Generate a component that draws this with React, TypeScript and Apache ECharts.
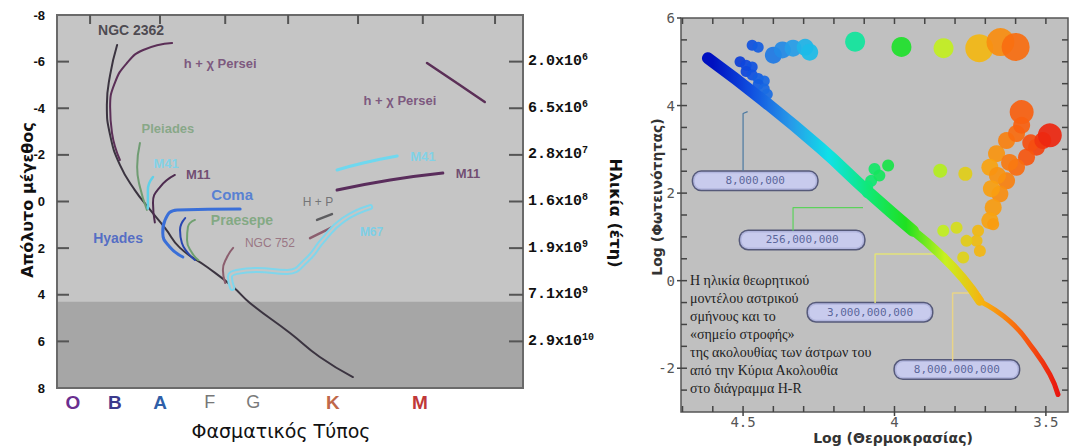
import React, { useEffect, useRef } from "react";
import * as echarts from "echarts";

// ---------------- LEFT PANEL (x: spectral position 0–100, y: absolute magnitude) ----------------
const xMinL = 0;
const xMaxL = 100;
const magMin = -8;
const magMax = 8;
const spectralClasses = ["O", "B", "A", "F", "G", "K", "M"];
const spectralPos = [3.4, 12.4, 22.1, 32.8, 42.1, 59.2, 77.9];
const topTickPos = [7.1, 22.1, 36.1, 49.6, 64.6, 78.5, 94.0];
const magTickPos = [-6, -4, -2, 0, 2, 4, 6];
const ageMags = [-6, -4, -2, 0, 2, 4, 6];
const ageMantissa = ["2.0", "6.5", "2.8", "1.6", "1.9", "7.1", "2.9"];
const ageExponent = ["6", "6", "7", "8", "9", "9", "10"];
const darkRegionStart = 4.3;

const mainSequence = [[12.9, -6.71], [11.4, -5.43], [10.7, -4.14], [11.4, -2.85], [13.5, -1.57], [16.7, -0.49], [20.0, 0.36], [23.2, 1.14], [26.4, 1.99], [32.2, 2.81], [37.8, 3.67], [41.4, 4.35], [50.0, 5.64], [56.4, 6.67], [63.5, 7.53]];
const persei = [[24.7, -6.8], [18.5, -6.5], [15.0, -5.94], [12.4, -5.08], [11.4, -4.05], [11.8, -2.94], [13.5, -1.78]];
const perseiGiants = [[79.4, -5.94], [85.8, -5.08], [91.8, -4.27]];
const pleiades = [[17.8, -2.51], [17.2, -1.48], [17.8, -0.62], [19.3, 0.36]];
const m41 = [[20.6, -1.05], [19.5, -0.49], [19.5, 0.3]];
const m41Giants = [[60.1, -1.35], [65.7, -1.65], [73.0, -1.95]];
const m11 = [[25.3, -1.14], [22.1, -0.62], [20.6, 0.06], [21.0, 0.9]];
const m11Giants = [[60.1, -0.49], [71.5, -0.92], [82.8, -1.22]];
const coma = [[39.3, 0.32], [25.8, 0.36], [23.2, 0.79], [22.7, 1.35], [24.2, 1.95], [27.0, 2.38]];
const hyades = [[27.5, 0.71], [26.4, 1.22], [26.8, 1.78], [28.1, 2.21], [29.6, 2.51]];
const praesepe = [[29.6, 0.79], [28.1, 1.09], [27.9, 1.65], [29.0, 2.21], [30.3, 2.51]];
const ngc752 = [[37.8, 1.99], [36.5, 2.38], [35.6, 2.94], [36.1, 3.5]];
const ngc752Giants = [[54.3, 1.57], [59.2, 1.09]];
const hpGiants = [[55.8, 0.79], [59.0, 0.54]];
const m67 = [[37.6, 3.71], [37.1, 3.24], [38.6, 3.02], [42.9, 2.94], [49.4, 3.02], [53.6, 2.51], [57.1, 1.65], [61.4, 0.79], [67.2, 0.24]];

const clusterLabels = ["NGC 2362", "h + χ Persei", "h + χ Persei", "Pleiades", "M41", "M11", "Coma", "Praesepe", "Hyades", "NGC 752", "H + P", "M67", "M41", "M11"];
const clusterLabelPos = [[15.9, -7.36], [35.0, -5.94], [73.6, -4.35], [23.8, -3.15], [23.4, -1.65], [30.3, -1.14], [37.6, -0.28], [39.7, 0.79], [13.1, 1.57], [45.7, 1.78], [56.0, 0.02], [67.5, 1.31], [78.5, -1.91], [88.2, -1.22]];

// ---------------- RIGHT PANEL (x: log T, y: log L) ----------------
const tempMin = 3.427;
const tempMax = 4.705;
const lumMin = -3;
const lumMax = 6;
const tempLabels = [3.5, 4, 4.5];
const tempTicks = [3.5, 3.6, 3.7, 3.8, 3.9, 4.0, 4.1, 4.2, 4.3, 4.4, 4.5, 4.6, 4.7];
const lumLabels = [-2, 0, 2, 4, 6];
const lumTicks = [-2.5, -2, -1.5, -1, -0.5, 0, 0.5, 1, 1.5, 2, 2.5, 3, 3.5, 4, 4.5, 5, 5.5];

const msUpper = [[4.616, 5.08], [4.434, 4.12], [4.246, 3.04], [4.081, 1.99], [3.939, 1.14]];
const msMiddle = [[3.939, 1.14], [3.85, 0.61], [3.774, 0.06], [3.718, -0.47]];
const msLower = [[3.718, -0.47], [3.619, -0.93], [3.543, -1.55], [3.487, -2.14], [3.46, -2.6]];
const turnoffBlue = [[4.47, 5.38], [4.45, 5.33], [4.51, 5.0], [4.49, 4.92], [4.47, 4.88], [4.49, 4.78], [4.47, 4.7], [4.45, 4.62], [4.43, 4.56], [4.45, 4.48], [4.43, 4.38], [4.42, 4.26]];
const topRowSmall = [[4.40, 5.15], [4.37, 5.27], [4.335, 5.31], [4.295, 5.33], [4.28, 5.22]];
const topRowMid = [[4.13, 5.46], [3.977, 5.34], [3.838, 5.31]];
const topRowLarge = [[3.72, 5.31], [3.65, 5.45], [3.60, 5.34]];
const greenBranch = [[4.066, 2.55], [4.021, 2.63], [4.077, 2.28], [4.088, 2.02], [4.05, 2.4], [4.09, 2.15]];
const yellowPair = [[3.849, 2.51], [3.766, 2.44]];
const redBranch = [[3.531, 3.05], [3.564, 2.82], [3.597, 2.59], [3.63, 2.28], [3.652, 1.98], [3.674, 1.67], [3.685, 1.37], [3.663, 2.9], [3.63, 3.2], [3.597, 3.36], [3.685, 2.59], [3.58, 3.55], [3.66, 2.4], [3.68, 2.1], [3.62, 2.7], [3.55, 3.15], [3.51, 3.2]];
const redTop = [[3.58, 3.85], [3.487, 3.32]];
const subgiants = [[3.674, 1.29], [3.724, 1.14], [3.729, 0.91], [3.762, 0.91], [3.718, 0.68], [3.795, 1.21], [3.839, 1.14], [3.773, 0.53]];

const boxLabels = ["8,000,000", "256,000,000", "3,000,000,000", "8,000,000,000"];
const boxPos = [[4.46, 2.28], [4.305, 0.93], [4.081, -0.72], [3.794, -2.03]];
const lead8M = [[4.5, 2.51], [4.5, 3.82], [4.485, 3.86]];
const lead256M = [[4.335, 1.14], [4.335, 1.67], [4.104, 1.67]];
const lead3G = [[4.064, -0.51], [4.064, 0.61], [3.843, 0.61]];
const lead8G = [[3.808, -1.84], [3.808, -0.28], [3.716, -0.28]];

const noteText = "Η ηλικία θεωρητικού\nμοντέλου αστρικού\nσμήνους και το\n«σημείο στροφής»\nτης ακολουθίας των άστρων του\nαπό την Κύρια Ακολουθία\nστο διάγραμμα H-R";

const labelColors: Record<string, string> = {
  "NGC 2362": "#2e2a33",
  "h + χ Persei": "#6a3b6c",
  Pleiades: "#78a078",
  M41: "#6fd6f0",
  M11: "#5a2d5c",
  Coma: "#3b6fd6",
  Praesepe: "#72a272",
  Hyades: "#3656c4",
  "NGC 752": "#8e6272",
  "H + P": "#5e5e62",
  M67: "#6ad2f0",
};

const LX = 0;
const LY = 0;
const RX = 1;
const RY = 2;

export default function App() {
  const ref = useRef<HTMLDivElement>(null);
  useEffect(() => {
    if (!ref.current) return;
    const chart = echarts.init(ref.current, undefined, { renderer: "svg" });

    const curve = (data: number[][], color: string, width: number, extra: any = {}) => ({
      type: "line",
      xAxisIndex: LX,
      yAxisIndex: LY,
      data,
      smooth: true,
      showSymbol: false,
      silent: true,
      lineStyle: { color, width, cap: "round" },
      ...extra,
    });

    const rLine = (data: number[][], color: string, width: number) => ({
      type: "line",
      xAxisIndex: RX,
      yAxisIndex: RY,
      data,
      showSymbol: false,
      silent: true,
      lineStyle: { color, width },
    });

    const msLine = (data: number[][], width: number) => ({
      type: "line",
      xAxisIndex: RX,
      yAxisIndex: RY,
      data,
      smooth: true,
      showSymbol: false,
      silent: true,
      lineStyle: { width, cap: "round" },
    });

    const dots = (data: number[][], size: number) => ({
      type: "scatter",
      xAxisIndex: RX,
      yAxisIndex: RY,
      data,
      symbolSize: size,
      silent: true,
      itemStyle: { opacity: 0.92 },
    });

    const labelSize = (n: string) =>
      n === "Coma" ? 15 : n === "H + P" || n === "M67" || n === "NGC 752" ? 12 : n === "NGC 2362" || n === "Hyades" || n === "Praesepe" ? 14 : 13;

    const series: any[] = [
      curve(mainSequence, "#3b3440", 2, {
        markArea: {
          silent: true,
          itemStyle: { color: "#a6a6a6" },
          data: [[{ yAxis: darkRegionStart }, { yAxis: magMax }]],
        },
        z: 3,
      }),
      curve(persei, "#5b2f57", 2),
      curve(perseiGiants, "#5b2f57", 2.5),
      curve(pleiades, "#6f9c72", 2),
      curve(m41, "#5fd0e8", 2.5),
      curve(m41Giants, "#6fd8ef", 3),
      curve(m11, "#4d2b4f", 2),
      curve(m11Giants, "#5a2d5c", 3),
      curve(coma, "#3a6fd8", 3),
      curve(hyades, "#2846b0", 2),
      curve(praesepe, "#70a070", 2),
      curve(ngc752, "#8b5e6e", 2),
      curve(ngc752Giants, "#8b5e6e", 2.5),
      curve(hpGiants, "#5d5d60", 2.5),
      curve(m67, "#7fd6ec", 6),
      curve(m67, "#c5c5c5", 2),
      {
        type: "scatter",
        xAxisIndex: LX,
        yAxisIndex: LY,
        silent: true,
        symbolSize: 0.1,
        itemStyle: { color: "transparent" },
        data: clusterLabels.map((n, i) => ({
          name: n,
          value: clusterLabelPos[i],
          label: {
            color: labelColors[n],
            fontSize: labelSize(n),
            fontWeight: n === "NGC 752" || n === "H + P" ? "normal" : "bold",
          },
        })),
        label: {
          show: true,
          position: "inside",
          formatter: "{b}",
          fontFamily: "Liberation Sans",
          fontWeight: "bold",
          fontSize: 13,
        },
        labelLayout: { hideOverlap: false },
      },
      rLine(lead8M, "#4a78a0", 1.2),
      rLine(lead256M, "#5cd25c", 1.2),
      rLine(lead3G, "#e2e27a", 1.5),
      rLine(lead8G, "#e8d488", 1.5),
    ];

    const vmStart = series.length;
    series.push(
      msLine(msUpper, 12),
      msLine(msMiddle, 9),
      msLine(msLower, 5),
      dots(turnoffBlue, 11),
      dots(topRowSmall, 17),
      dots(topRowMid, 20),
      dots(topRowLarge, 28),
      dots(greenBranch, 12),
      dots(yellowPair, 14),
      dots(redBranch, 17),
      dots(redTop, 24),
      dots(subgiants, 12)
    );
    const vmEnd = series.length;
    series.push({
      type: "scatter",
      xAxisIndex: RX,
      yAxisIndex: RY,
      silent: true,
      symbolSize: 0.1,
      itemStyle: { color: "transparent" },
      data: boxLabels.map((n, i) => ({ name: n, value: boxPos[i] })),
      label: {
        show: true,
        position: "inside",
        formatter: "{b}",
        fontFamily: "DejaVu Sans Mono",
        fontSize: 11,
        color: "#3c4a84",
        backgroundColor: "#c9cdf8",
        borderColor: "#3a3f66",
        borderWidth: 1.5,
        borderRadius: 8,
        width: 116,
        height: 14,
        align: "center",
        verticalAlign: "middle",
        padding: [2, 4],
      },
      labelLayout: { hideOverlap: false },
    });

    const vmIdx: number[] = [];
    for (let i = vmStart; i < vmEnd; i++) vmIdx.push(i);

    const noLine = { show: false, onZero: false };
    const option: any = {
      animation: false,
      backgroundColor: "#ffffff",
      grid: [
        { left: 57, top: 15, width: 466, height: 373, show: true, backgroundColor: "#c5c5c5", borderWidth: 0 },
        { left: 681, top: 18, width: 387, height: 394, show: true, backgroundColor: "#c0c0c0", borderWidth: 0 },
      ],
      xAxis: [
        {
          gridIndex: 0, type: "value", position: "bottom", min: xMinL, max: xMaxL,
          axisLine: noLine, axisTick: { show: false }, splitLine: { show: false },
          axisLabel: {
            customValues: spectralPos,
            margin: 5,
            formatter: (v: number) => {
              const i = spectralPos.indexOf(v);
              return i < 0 ? "" : `{${spectralClasses[i]}|${spectralClasses[i]}}`;
            },
            rich: {
              O: { color: "#6a2f8f", fontSize: 19, fontWeight: "bold", fontFamily: "Liberation Sans" },
              B: { color: "#3b3a8c", fontSize: 19, fontWeight: "bold", fontFamily: "Liberation Sans" },
              A: { color: "#2f5fa8", fontSize: 19, fontWeight: "bold", fontFamily: "Liberation Sans" },
              F: { color: "#777777", fontSize: 18, fontFamily: "Liberation Sans" },
              G: { color: "#7a7a7a", fontSize: 18, fontFamily: "Liberation Sans" },
              K: { color: "#c0684a", fontSize: 19, fontWeight: "bold", fontFamily: "Liberation Sans" },
              M: { color: "#c03838", fontSize: 19, fontWeight: "bold", fontFamily: "Liberation Sans" },
            },
          },
        },
        {
          gridIndex: 1, type: "value", position: "bottom", min: tempMin, max: tempMax, inverse: true,
          axisLine: noLine, splitLine: { show: false }, axisTick: { show: false },
          axisLabel: { customValues: tempLabels, margin: 3, formatter: (v: number) => String(v), fontFamily: "DejaVu Sans Mono", fontSize: 14, color: "#555" },
        },
      ],
      yAxis: [
        {
          gridIndex: 0, type: "value", position: "left", min: magMin, max: magMax, interval: 2, inverse: true,
          axisLine: noLine, splitLine: { show: false }, axisTick: { show: false },
          axisLabel: { margin: 12, fontFamily: "Liberation Sans", fontWeight: "bold", fontSize: 13, color: "#111" },
        },
        {
          gridIndex: 0, type: "value", position: "right", min: magMin, max: magMax, inverse: true,
          axisLine: noLine, splitLine: { show: false }, axisTick: { show: false },
          axisLabel: {
            customValues: ageMags,
            margin: 5,
            formatter: (v: number) => {
              const i = ageMags.indexOf(v);
              return i < 0 ? "" : `{m|${ageMantissa[i]}x10}{e|${ageExponent[i]}}`;
            },
            rich: {
              m: { fontFamily: "Liberation Mono", fontWeight: "bold", fontSize: 15, color: "#111", lineHeight: 18 },
              e: { fontFamily: "Liberation Mono", fontWeight: "bold", fontSize: 10, color: "#111", lineHeight: 10, verticalAlign: "top" },
            },
          },
        },
        {
          gridIndex: 1, type: "value", position: "left", min: lumMin, max: lumMax,
          axisLine: noLine, splitLine: { show: false }, axisTick: { show: false },
          axisLabel: { customValues: lumLabels, margin: 6, fontFamily: "DejaVu Sans Mono", fontSize: 14, color: "#555" },
        },
      ],
      visualMap: [
        {
          type: "continuous",
          show: false,
          dimension: 0,
          min: 3.45,
          max: 4.6,
          seriesIndex: vmIdx,
          inRange: {
            color: ["#e81010", "#f86010", "#f8b010", "#c8f020", "#20e020", "#10e878", "#10e0e8", "#2898e8", "#1050e0", "#0010c0"],
          },
        },
      ],
      series,
    };
    chart.setOption(option);

    // frames and tick marks, positioned through the axes' own scales
    const toPx = (gi: number, pt: number[]) => chart.convertToPixel({ gridIndex: gi } as any, pt) as number[];
    const els: any[] = [];
    const seg = (p: number[], dx: number, dy: number, color: string, w: number) =>
      els.push({ type: "line", z: 100, silent: true, shape: { x1: p[0], y1: p[1], x2: p[0] + dx, y2: p[1] + dy }, style: { stroke: color, lineWidth: w } });
    const frame = (gi: number, a: number[], b: number[], color: string, w: number) => {
      const p = toPx(gi, a);
      const q = toPx(gi, b);
      els.push({
        type: "rect", z: 100, silent: true,
        shape: { x: Math.min(p[0], q[0]), y: Math.min(p[1], q[1]), width: Math.abs(q[0] - p[0]), height: Math.abs(q[1] - p[1]) },
        style: { fill: "none", stroke: color, lineWidth: w },
      });
    };
    frame(0, [xMinL, magMin], [xMaxL, magMax], "#6a6a6a", 2);
    topTickPos.forEach((v) => seg(toPx(0, [v, magMin]), 0, 9, "#555", 2));
    magTickPos.forEach((v) => seg(toPx(0, [xMinL, v]), 12, 0, "#555", 2));
    magTickPos.forEach((v) => seg(toPx(0, [xMaxL, v]), -14, 0, "#555", 2));
    frame(1, [tempMin, lumMin], [tempMax, lumMax], "#555", 1.5);
    tempTicks.forEach((v) => seg(toPx(1, [v, lumMin]), 0, -6, "#444", 1.5));
    tempLabels.forEach((v) => seg(toPx(1, [v, lumMin]), 0, 4, "#444", 1.5));
    tempTicks.forEach((v) => seg(toPx(1, [v, lumMax]), 0, 6, "#444", 1.5));
    lumTicks.forEach((v) => seg(toPx(1, [tempMax, v]), 6, 0, "#444", 1.5));
    lumLabels.forEach((v) => seg(toPx(1, [tempMax, v]), -4, 0, "#444", 1.5));
    lumTicks.forEach((v) => seg(toPx(1, [tempMin, v]), -6, 0, "#444", 1.5));

    const texts = [
      { type: "text", x: 27, y: 200, rotation: Math.PI / 2, style: { text: "Απόλυτο μέγεθος", fontFamily: "DejaVu Sans", fontWeight: "bold", fontSize: 16, fill: "#111", align: "center", verticalAlign: "middle" } },
      { type: "text", x: 615, y: 213, rotation: -Math.PI / 2, style: { text: "Ηλικία (έτη)", fontFamily: "DejaVu Sans", fontWeight: "bold", fontSize: 16, fill: "#111", align: "center", verticalAlign: "middle" } },
      { type: "text", x: 281, y: 431, style: { text: "Φασματικός Τύπος", fontFamily: "DejaVu Sans", fontSize: 19, fill: "#111", align: "center", verticalAlign: "middle" } },
      { type: "text", x: 657, y: 197, rotation: Math.PI / 2, style: { text: "Log (Φωτεινότητας)", fontFamily: "DejaVu Sans", fontWeight: "bold", fontSize: 14, fill: "#333", align: "center", verticalAlign: "middle" } },
      { type: "text", x: 893, y: 438, style: { text: "Log (Θερμοκρασίας)", fontFamily: "DejaVu Sans", fontWeight: "bold", fontSize: 14, fill: "#333", align: "center", verticalAlign: "middle" } },
      { type: "text", x: 690, y: 271, z: 100, style: { text: noteText, fontFamily: "Liberation Serif", fontSize: 14, lineHeight: 18, fill: "#222", align: "left", verticalAlign: "top" } },
    ];
    chart.setOption({ graphic: [...texts, ...els] });
    return () => chart.dispose();
  }, []);
  return <div ref={ref} style={{ position: "absolute", left: 0, top: 0, width: 1069, height: 448 }} />;
}
